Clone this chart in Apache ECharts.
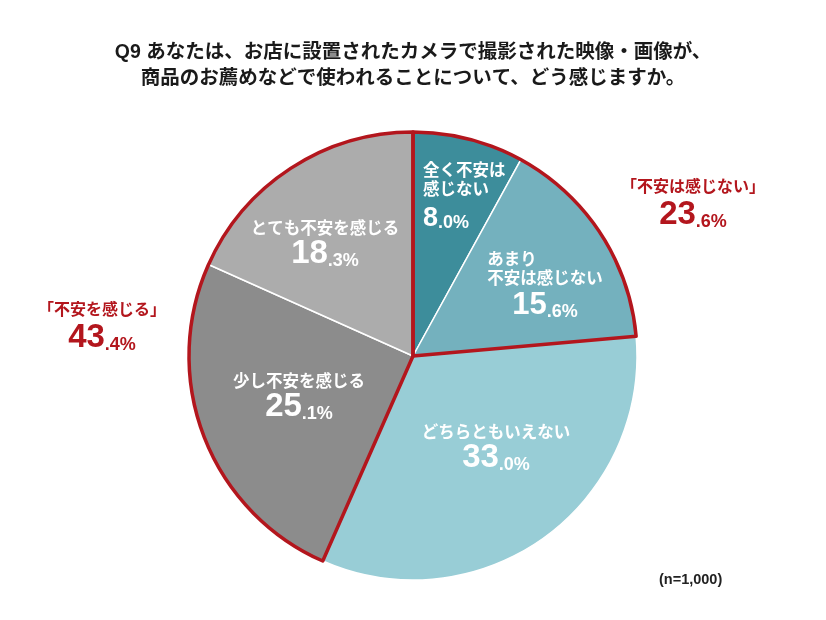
<!DOCTYPE html>
<html><head><meta charset="utf-8">
<script src="https://cdn.jsdelivr.net/npm/echarts@6/dist/echarts.min.js"></script>
<style>html,body{margin:0;padding:0;background:#fff}#c{width:826px;height:620px}</style>
</head><body><div id="c"></div>
<script>
const titleText = 'Q9 あなたは、お店に設置されたカメラで撮影された映像・画像が、\n商品のお薦めなどで使われることについて、どう感じますか。';
const categories = ['全く不安は感じない', 'あまり不安は感じない', 'どちらともいえない', '少し不安を感じる', 'とても不安を感じる'];
const labelLines = [['全く不安は', '感じない'], ['あまり\u3000\u3000\u3000\u3000', '不安は感じない'], ['どちらともいえない'], ['少し不安を感じる'], ['とても不安を感じる']];
const values = [8.0, 15.6, 33.0, 25.1, 18.3];
const groups = ['不安は感じない', 'どちらともいえない', '不安を感じる'];
const groupValues = [23.6, 33.0, 43.4];
const noteText = '(n=1,000)';

const colors = ['#3d8d9b', '#74b1be', '#98cdd6', '#8c8c8c', '#acacac'];
const RED = '#b3161d';
const FONT = '"Liberation Sans","Noto Sans CJK JP",sans-serif';
const CX = 413, CY = 356, R = 224;

// label anchors (label placement only)
const innerAnchors = [
  {x: 423, y: 197, align: 'left'},
  {x: 545, y: 286, align: 'center'},
  {x: 496, y: 449, align: 'center'},
  {x: 299, y: 398, align: 'center'},
  {x: 325, y: 245, align: 'center'}
];
const outerAnchors = [
  {x: 693, y: 204}, null, {x: 102, y: 327}
];
const bigSizes = [27, 31, 33, 33, 33];

function splitVal(v) {
  const s = v.toFixed(1);
  const i = s.indexOf('.');
  return [s.slice(0, i), s.slice(i)];
}

const chart = echarts.init(document.getElementById('c'));
chart.setOption({
  backgroundColor: '#fff',
  animation: false,
  title: [{
    text: titleText, left: 'center', top: 35,
    textStyle: {fontFamily: FONT, fontSize: 19.5, fontWeight: 'bold', color: '#1a1a1a', lineHeight: 26}
  }, {
    text: noteText, left: 654, top: 568,
    textStyle: {fontFamily: FONT, fontSize: 14.5, fontWeight: 'bold', color: '#222'}
  }],
  series: [{
    type: 'pie', center: [CX, CY], radius: [0, R], startAngle: 90, clockwise: true,
    silent: true, z: 2,
    data: categories.map((c, i) => ({
      name: c, value: values[i],
      itemStyle: {color: colors[i]},
      label: {
        formatter: () => {
          const [a, b] = splitVal(values[i]);
          return labelLines[i].map(t => '{t|' + t + '}').join('\n') + '\n{b' + i + '|' + a + '}{s|' + b + '%}';
        }
      }
    })),
    itemStyle: {borderColor: '#fff', borderWidth: 1.5},
    label: {
      show: true, position: 'inside', color: '#fff', fontFamily: FONT,
      rich: Object.assign({
        t: {fontSize: 16.5, fontWeight: 'bold', color: '#fff', lineHeight: 19, fontFamily: FONT},
        s: {fontSize: 18, fontWeight: 'bold', color: '#fff', fontFamily: FONT, verticalAlign: 'bottom', lineHeight: 32}
      }, Object.fromEntries(bigSizes.map((sz, i) => ['b' + i, {fontSize: sz, fontWeight: 'bold', color: '#fff', fontFamily: FONT, lineHeight: 32, verticalAlign: 'bottom'}])))
    },
    labelLine: {show: false},
    labelLayout: (p) => {
      const a = innerAnchors[p.dataIndex];
      return {x: a.x, y: a.y, align: a.align, verticalAlign: 'middle'};
    }
  }, {
    type: 'pie', center: [CX, CY], radius: [0, R], startAngle: 90, clockwise: true,
    silent: true, z: 3,
    data: groups.map((g, i) => ({
      name: g, value: groupValues[i],
      itemStyle: {color: 'rgba(0,0,0,0)', borderColor: i === 1 ? 'rgba(0,0,0,0)' : RED, borderWidth: i === 1 ? 0 : 3.5},
      label: {show: i !== 1}
    })),
    label: {
      position: 'outside', fontFamily: FONT, color: RED,
      formatter: (p) => {
        const [a, b] = splitVal(p.value);
        return '{t|「' + p.name + '」}\n{b|' + a + '}{s|' + b + '%}';
      },
      rich: {
        t: {fontSize: 16, fontWeight: 'bold', color: RED, lineHeight: 22, fontFamily: FONT},
        b: {fontSize: 33, fontWeight: 'bold', color: RED, lineHeight: 32, fontFamily: FONT, verticalAlign: 'bottom'},
        s: {fontSize: 18, fontWeight: 'bold', color: RED, lineHeight: 32, fontFamily: FONT, verticalAlign: 'bottom'}
      }
    },
    labelLine: {show: false},
    labelLayout: (p) => {
      const a = outerAnchors[p.dataIndex] || {x: 0, y: 0};
      return {x: a.x, y: a.y, align: 'center', verticalAlign: 'middle'};
    }
  }]
});
</script></body></html>
